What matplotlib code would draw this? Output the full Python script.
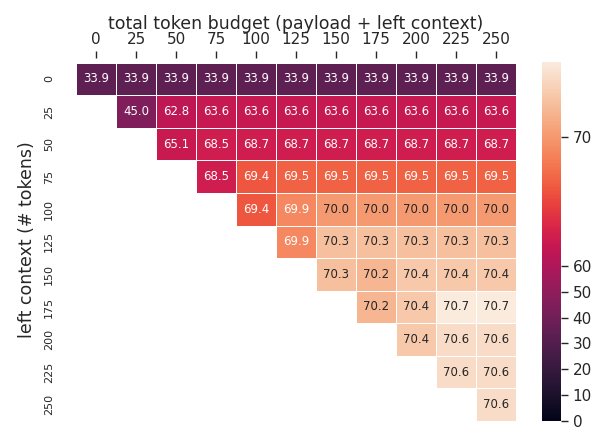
import numpy as np
import matplotlib
matplotlib.use("Agg")
import matplotlib.pyplot as plt
import matplotlib.colors as mcolors
import seaborn as sns

budgets = [0, 25, 50, 75, 100, 125, 150, 175, 200, 225, 250]
left_context = [0, 25, 50, 75, 100, 125, 150, 175, 200, 225, 250]

# each row starts at the column where budget == left context
row_0 = [33.9] * 11
row_25 = [45.0, 62.8, 63.6, 63.6, 63.6, 63.6, 63.6, 63.6, 63.6, 63.6]
row_50 = [65.1, 68.5, 68.7, 68.7, 68.7, 68.7, 68.7, 68.7, 68.7]
row_75 = [68.5, 69.4, 69.5, 69.5, 69.5, 69.5, 69.5, 69.5]
row_100 = [69.4, 69.9, 70.0, 70.0, 70.0, 70.0, 70.0]
row_125 = [69.9, 70.3, 70.3, 70.3, 70.3, 70.3]
row_150 = [70.3, 70.2, 70.4, 70.4, 70.4]
row_175 = [70.2, 70.4, 70.7, 70.7]
row_200 = [70.4, 70.6, 70.6]
row_225 = [70.6, 70.6]
row_250 = [70.6]

rows = [row_0, row_25, row_50, row_75, row_100, row_125, row_150,
        row_175, row_200, row_225, row_250]

n = len(budgets)
data = np.full((n, n), np.nan)
for i, r in enumerate(rows):
    data[i, n - len(r):] = r
mask = np.isnan(data)

# stretched colour scale (colorbar ticks are not evenly spaced)
xs = [0, 60, 62.8, 63.6, 68.8, 69.4, 69.5, 69.9, 70.0, 70.2, 70.3, 70.4, 70.6, 70.7]
ys = [0, 0.432, 0.47, 0.49, 0.51, 0.645, 0.67, 0.75, 0.79, 0.86, 0.885, 0.91, 0.96, 1.0]

def fwd(v):
    return np.interp(v, xs, ys)

def inv(v):
    return np.interp(v, ys, xs)

norm = mcolors.FuncNorm((fwd, inv), vmin=0, vmax=70.7)

plt.rcParams['font.family'] = ['DejaVu Sans']
plt.rcParams['text.color'] = '.15'
plt.rcParams['axes.labelcolor'] = '.15'
plt.rcParams['xtick.color'] = '.15'
plt.rcParams['ytick.color'] = '.15'

fig = plt.figure(figsize=(6.09, 4.3), dpi=100)
ax = fig.add_axes([0.125, 0.021, 0.722, 0.844])
cax = fig.add_axes([0.890, 0.021, 0.031, 0.835])

sns.heatmap(data, mask=mask, cmap="rocket", norm=norm, annot=True, fmt=".1f",
            annot_kws={"fontsize": 8.5}, linewidths=0.6, linecolor="white",
            ax=ax, cbar_ax=cax, xticklabels=budgets, yticklabels=left_context)

ax.set_ylim(n, -0.14)
ax.xaxis.tick_top()
ax.xaxis.set_label_position("top")
ax.set_xticklabels(budgets, rotation=0, fontsize=11)
ax.set_yticklabels(left_context, rotation=90, va="center", fontsize=8)
ax.tick_params(axis="x", length=5, width=1, pad=3)
ax.tick_params(axis="y", length=0, pad=16)
ax.set_xlabel("total token budget (payload + left context)", fontsize=12.5, labelpad=2)
ax.set_ylabel("left context (# tokens)", fontsize=12.5, labelpad=6)

cax.set_yticks([0, 10, 20, 30, 40, 50, 60, 70])
cax.set_yticklabels(["0", "10", "20", "30", "40", "50", "60", "70"])
cax.tick_params(length=5, width=1, labelsize=11)

fig.savefig("out.png", dpi=100)
